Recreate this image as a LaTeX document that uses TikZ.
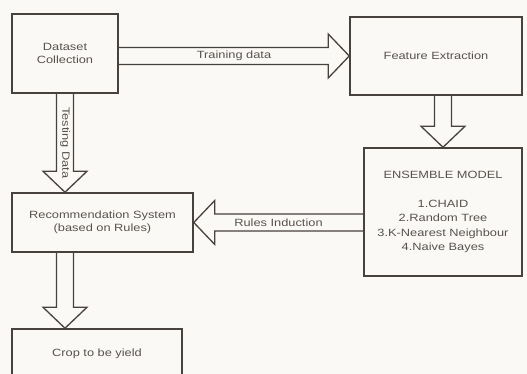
\documentclass[tikz,border=0pt]{standalone}
\usepackage{fontspec}
\setmainfont[FakeStretch=1.22]{Liberation Sans}
\usetikzlibrary{calc}

\definecolor{lineclr}{RGB}{72,66,62}
\definecolor{textclr}{RGB}{88,82,78}
\definecolor{bgclr}{RGB}{251,249,246}

\tikzset{
  box/.style={draw=lineclr, line width=1.5pt, text=textclr, align=center, inner sep=0pt},
  hollow/.style={draw=lineclr, line width=1.3pt, line join=miter},
  lbl/.style={text=textclr, inner sep=0pt}
}

% outlined block arrow from #2 to #3, label #4 at mid shaft
\newcommand{\hollowarrow}[4][]{%
  \coordinate (hb) at ($(#3)!21pt!(#2)$);
  \draw[hollow] ($(#2)!8.5pt!90:(#3)$) -- ($(hb)!8.5pt!90:(#3)$) -- ($(hb)!22pt!90:(#3)$)
    -- (#3) -- ($(hb)!22pt!-90:(#3)$) -- ($(hb)!8.5pt!-90:(#3)$) -- ($(#2)!8.5pt!-90:(#3)$);
  \node[lbl,#1] at ($(#2)!0.5!(#3)$) {#4};
}

\begin{document}
\begin{tikzpicture}[x=1pt, y=-1pt, font=\fontsize{10.5}{14.5}\selectfont]
  \path[use as bounding box, fill=bgclr] (0,0) rectangle (527,374);
  \clip (0,0) rectangle (527,374);
  % boxes
  \node[box, minimum width=106pt, minimum height=79pt] (dc) at (65,53.5) {Dataset\\[-1.5pt]Collection};
  \node[box, minimum width=172pt, minimum height=78pt] (fe) at (436,56) {Feature Extraction};
  \node[box, minimum width=158pt, minimum height=128pt] (en) at (443,212)
    {ENSEMBLE MODEL\\[14.5pt]1.CHAID\\2.Random Tree\\3.K-Nearest Neighbour\\4.Naive Bayes};
  \node[box, minimum width=181pt, minimum height=59pt] (rs) at (102.5,222.5)
    {Recommendation System\\[-1.5pt](based on Rules)};
  \node[box, minimum width=170pt, minimum height=50pt] (cr) at (97,354) {Crop to be yield};
  % arrow end points
  \coordinate (trs) at (fe.west -| dc.east);
  \coordinate (tss) at (dc.south);
  \coordinate (tse) at (dc.south |- rs.north);
  \coordinate (fes) at (en.north |- fe.south);
  \coordinate (ris) at (rs.east -| en.west);
  \coordinate (crs) at (dc.south |- rs.south);
  \coordinate (cre) at (dc.south |- cr.north);
  % block arrows
  \hollowarrow{trs}{fe.west}{Training data}
  \hollowarrow[rotate=-90]{tss}{tse}{Testing Data}
  \hollowarrow{fes}{en.north}{}
  \hollowarrow{ris}{rs.east}{Rules Induction}
  \hollowarrow{crs}{cre}{}
\end{tikzpicture}
\end{document}
